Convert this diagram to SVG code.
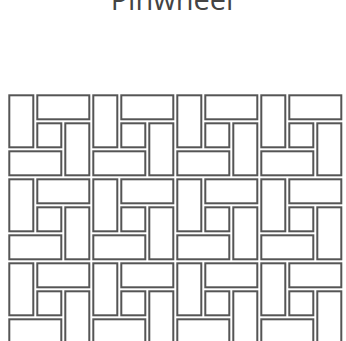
<svg xmlns="http://www.w3.org/2000/svg" xmlns:xlink="http://www.w3.org/1999/xlink" width="346" height="341" viewBox="0 0 346 341">
<style>
.t{fill:#fff;stroke:#555;stroke-width:2}
.title{font-family:"Open Sans","Liberation Sans",sans-serif;font-size:29px;fill:#444}
</style>
<defs>
<g id="tile">
<rect class="t" x="2" y="2" width="24" height="52"/>
<rect class="t" x="30" y="2" width="52" height="24"/>
<rect class="t" x="30" y="30" width="24" height="24"/>
<rect class="t" x="58" y="30" width="24" height="52"/>
<rect class="t" x="2" y="58" width="52" height="24"/>
</g>
</defs>
<rect width="346" height="341" fill="#fff"/>
<text class="title" x="172" y="9.5" text-anchor="middle">Pinwheel</text>
<g id="pattern" transform="translate(7.3,93.3)">
<use xlink:href="#tile" x="0" y="0"/>
<use xlink:href="#tile" x="84" y="0"/>
<use xlink:href="#tile" x="168" y="0"/>
<use xlink:href="#tile" x="252" y="0"/>
<use xlink:href="#tile" x="0" y="84"/>
<use xlink:href="#tile" x="84" y="84"/>
<use xlink:href="#tile" x="168" y="84"/>
<use xlink:href="#tile" x="252" y="84"/>
<use xlink:href="#tile" x="0" y="168"/>
<use xlink:href="#tile" x="84" y="168"/>
<use xlink:href="#tile" x="168" y="168"/>
<use xlink:href="#tile" x="252" y="168"/>
</g>
</svg>
